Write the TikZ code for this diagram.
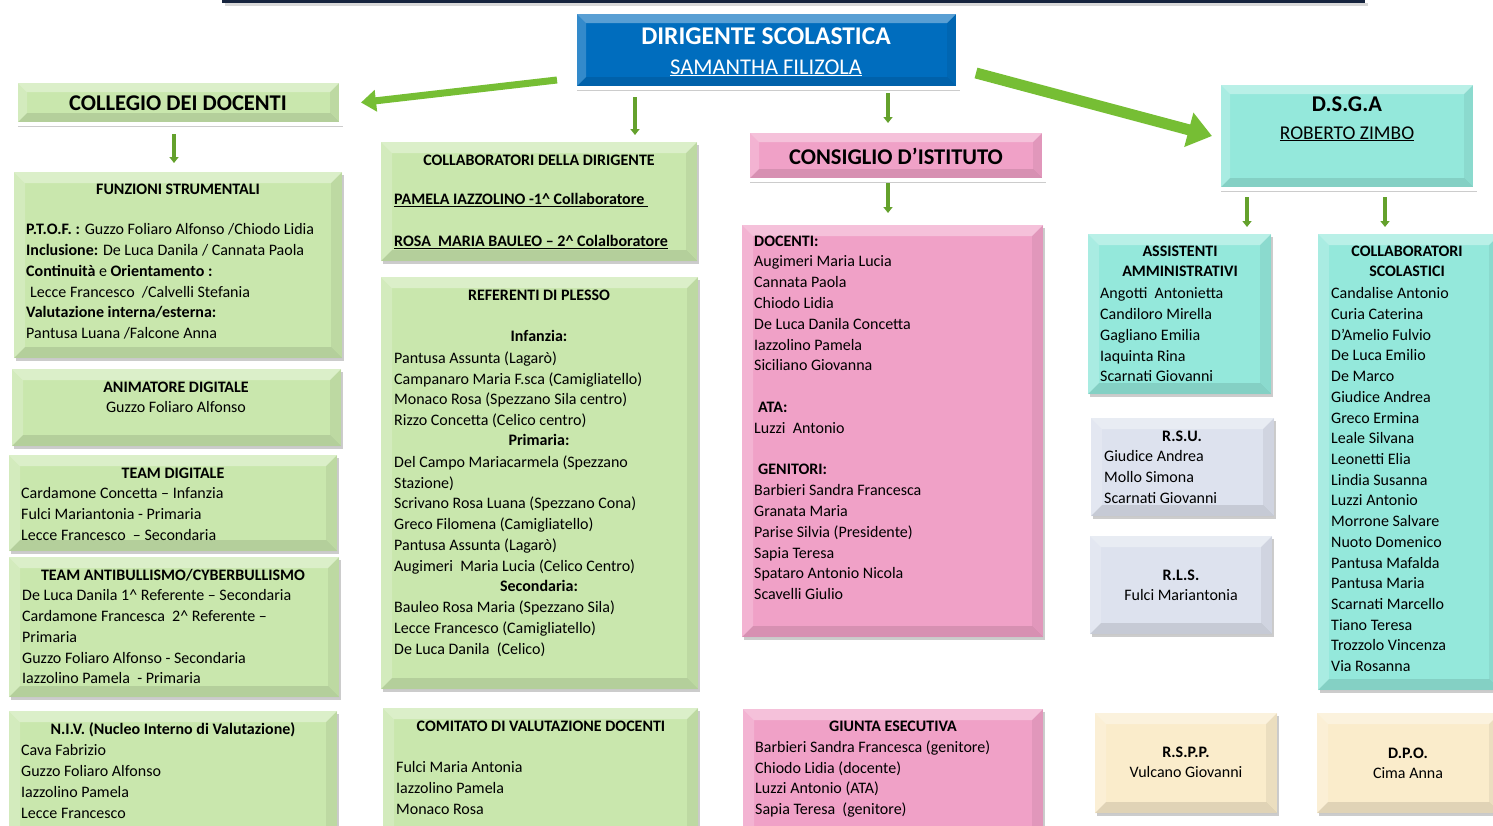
\documentclass[tikz,border=0pt]{standalone}
\usepackage{fontspec}
\setmainfont{Carlito}
\usetikzlibrary{arrows.meta,shadows}

\definecolor{boxgreen}{RGB}{201,231,173}
\definecolor{boxpink}{RGB}{240,161,199}
\definecolor{boxcyan}{RGB}{148,232,219}
\definecolor{boxgray}{RGB}{221,226,238}
\definecolor{boxbeige}{RGB}{250,236,203}
\definecolor{boxblue}{RGB}{0,109,190}
\definecolor{arrowgreen}{RGB}{118,190,52}
\definecolor{navybar}{RGB}{22,36,62}

\newcommand\bodysize{\fontsize{16pt}{20.8pt}\selectfont}

\begin{document}
\begin{tikzpicture}[x=1pt,y=-1pt,
  bevelled/.style={path picture={
    \coordinate (bnw) at (path picture bounding box.north west);
    \coordinate (bne) at (path picture bounding box.north east);
    \coordinate (bsw) at (path picture bounding box.south west);
    \coordinate (bse) at (path picture bounding box.south east);
    \fill[white,opacity=.35] (bnw) -- (bne) -- ([shift={(-11pt,-11pt)}]bne) -- ([shift={(11pt,-11pt)}]bnw) -- cycle;
    \fill[white,opacity=.2] (bnw) -- ([shift={(11pt,-11pt)}]bnw) -- ([shift={(11pt,11pt)}]bsw) -- (bsw) -- cycle;
    \fill[black,opacity=.1] (bsw) -- (bse) -- ([shift={(-11pt,11pt)}]bse) -- ([shift={(11pt,11pt)}]bsw) -- cycle;
    \fill[black,opacity=.06] (bne) -- (bse) -- ([shift={(-11pt,11pt)}]bse) -- ([shift={(-11pt,-11pt)}]bne) -- cycle;
  }},
  panel/.style={anchor=north west, inner sep=0pt, outer sep=0pt, bevelled,
    drop shadow={shadow xshift=1.5pt,shadow yshift=-3pt,fill=black!50,opacity=.4}},
  greenbox/.style={panel, fill=boxgreen},
  pinkbox/.style={panel, fill=boxpink},
  cyanbox/.style={panel, fill=boxcyan},
  graybox/.style={panel, fill=boxgray},
  beigebox/.style={panel, fill=boxbeige},
  whiteframe/.style={draw=white, line width=4pt},
  title/.style={anchor=north, inner sep=0pt, align=center, font=\bodysize\bfseries, execute at begin node=\strut},
  title2/.style={title, yshift=-4pt},
  lines/.style={anchor=north west, inner sep=0pt, align=left, font=\bodysize, yshift=-4pt},
  bigarrow/.style={draw=arrowgreen, line width=7pt, -{Triangle[width=21pt,length=15pt]}},
  smallarrow/.style={draw=arrowgreen!85!black, line width=3.5pt, -{Triangle[width=9pt,length=6pt]}}]

\fill[white] (0,0) rectangle (1493,825);
\useasboundingbox (0,0) rectangle (1493,825);

% top bar
\fill[black!15] (225,3) rectangle (1368,6);
\fill[navybar] (222,-3) rectangle (1365,3);

% heads
\node[panel, whiteframe, fill=boxblue, minimum width=383pt, minimum height=76pt] (dir) at (575,12) {};
\node[anchor=base, inner sep=0pt, text=white, font=\fontsize{25.5pt}{30pt}\selectfont\bfseries] (dir-t) at (766,44) {DIRIGENTE SCOLASTICA};
\node[anchor=base, inner sep=0pt, text=white, font=\fontsize{22.5pt}{27pt}\selectfont] (dir-n) at (766,74) {\underline{SAMANTHA FILIZOLA}};

\node[panel, whiteframe, fill=boxgreen, minimum width=325pt, minimum height=43pt] (coll) at (16,81) {};
\node[anchor=base, inner sep=0pt, font=\fontsize{22.5pt}{27pt}\selectfont\bfseries] (coll-t) at (178,110) {COLLEGIO DEI DOCENTI};

\node[panel, whiteframe, fill=boxpink, minimum width=296pt, minimum height=49pt] (cons) at (748,131) {};
\node[anchor=base, inner sep=0pt, font=\fontsize{22.5pt}{27pt}\selectfont\bfseries] (cons-t) at (896,164) {CONSIGLIO D’ISTITUTO};

\node[panel, whiteframe, fill=boxcyan, minimum width=256pt, minimum height=106pt] (dsga) at (1219,83) {};
\node[anchor=base, inner sep=0pt, font=\fontsize{22.5pt}{27pt}\selectfont\bfseries] (dsga-t) at (1347,111) {D.S.G.A};
\node[anchor=base, inner sep=0pt, font=\fontsize{19.5pt}{23pt}\selectfont] (dsga-n) at (1347,139) {\underline{ROBERTO ZIMBO}};

% first column
\node[greenbox, minimum width=328pt, minimum height=186pt] (fs) at (14,172) {};
\node[title] (fs-t) at (178,179.4) {FUNZIONI STRUMENTALI};
\node[lines] (fs-l) at (26,219.4) {\textbf{P.T.O.F. :} Guzzo Foliaro Alfonso /Chiodo Lidia\\
  \textbf{Inclusione:} De Luca Danila / Cannata Paola\\
  \textbf{Continuità} e \textbf{Orientamento :}\\
  \hspace{4pt}Lecce Francesco \ /Calvelli Stefania\\
  \textbf{Valutazione interna/esterna:}\\
  Pantusa Luana /Falcone Anna};

\node[greenbox, minimum width=329pt, minimum height=77pt] (anim) at (12,369) {};
\node[title2] (anim-t) at (176,377.4) {ANIMATORE DIGITALE\\\mdseries Guzzo Foliaro Alfonso};

\node[greenbox, minimum width=328pt, minimum height=96pt] (tdig) at (9,455) {};
\node[title] (tdig-t) at (173,463.4) {TEAM DIGITALE};
\node[lines] (tdig-l) at (21,483.4) {Cardamone Concetta – Infanzia\\
  Fulci Mariantonia - Primaria\\
  Lecce Francesco \ – Secondaria};

\node[greenbox, minimum width=330pt, minimum height=140pt] (tab) at (9,557) {};
\node[title] (tab-t) at (173,565.4) {TEAM ANTIBULLISMO/CYBERBULLISMO};
\node[lines] (tab-l) at (22,585.4) {De Luca Danila 1\textasciicircum{} Referente – Secondaria\\
  Cardamone Francesca \ 2\textasciicircum{} Referente –\\
  Primaria\\
  Guzzo Foliaro Alfonso - Secondaria\\
  Iazzolino Pamela \ - Primaria};

\node[greenbox, minimum width=328pt, minimum height=130pt] (niv) at (9,711) {};
\node[title] (niv-t) at (173,719.4) {N.I.V. (Nucleo Interno di Valutazione)};
\node[lines] (niv-l) at (21,740.4) {Cava Fabrizio\\
  Guzzo Foliaro Alfonso\\
  Iazzolino Pamela\\
  Lecce Francesco};

% second column
\node[greenbox, minimum width=316pt, minimum height=119pt] (cdir) at (381,142) {};
\node[title] (cdir-t) at (539,150.4) {COLLABORATORI DELLA DIRIGENTE};
\node[lines, font=\bodysize\bfseries] (cdir-l) at (394,189.4) {\underline{PAMELA IAZZOLINO -1\textasciicircum{} Collaboratore\ }\\
  \mbox{}\\
  \underline{ROSA \ MARIA BAULEO – 2\textasciicircum{} Colalboratore}};

\node[greenbox, minimum width=317pt, minimum height=412pt] (ref) at (381,277) {};
\node[title] (ref-t) at (539,285.4) {REFERENTI DI PLESSO};
\node[title] (ref-h1) at (539,326.4) {Infanzia:};
\node[title] (ref-h2) at (539,430.4) {Primaria:};
\node[title] (ref-h3) at (539,576.4) {Secondaria:};
\node[lines] (ref-l) at (394,347.4) {Pantusa Assunta (Lagarò)\\
  Campanaro Maria F.sca (Camigliatello)\\
  Monaco Rosa (Spezzano Sila centro)\\
  Rizzo Concetta (Celico centro)\\
  \mbox{}\\
  Del Campo Mariacarmela (Spezzano\\
  Stazione)\\
  Scrivano Rosa Luana (Spezzano Cona)\\
  Greco Filomena (Camigliatello)\\
  Pantusa Assunta (Lagarò)\\
  Augimeri \ Maria Lucia (Celico Centro)\\
  \mbox{}\\
  Bauleo Rosa Maria (Spezzano Sila)\\
  Lecce Francesco (Camigliatello)\\
  De Luca Danila \ (Celico)};

\node[greenbox, minimum width=315pt, minimum height=130pt] (comv) at (383,708) {};
\node[title] (comv-t) at (541,716.4) {COMITATO DI VALUTAZIONE DOCENTI};
\node[lines] (comv-l) at (396,757.4) {Fulci Maria Antonia\\
  Iazzolino Pamela\\
  Monaco Rosa};

% third column
\node[pinkbox, minimum width=301pt, minimum height=412pt] (cist) at (742,225) {};
\node[lines] (cist-l) at (754,231.4) {\textbf{DOCENTI:}\\
  Augimeri Maria Lucia\\
  Cannata Paola\\
  Chiodo Lidia\\
  De Luca Danila Concetta\\
  Iazzolino Pamela\\
  Siciliano Giovanna\\
  \mbox{}\\
  \hspace{4pt}\textbf{ATA:}\\
  Luzzi \ Antonio\\
  \mbox{}\\
  \hspace{4pt}\textbf{GENITORI:}\\
  Barbieri Sandra Francesca\\
  Granata Maria\\
  Parise Silvia (Presidente)\\
  Sapia Teresa\\
  Spataro Antonio Nicola\\
  Scavelli Giulio};

\node[pinkbox, minimum width=300pt, minimum height=130pt] (giunta) at (743,709) {};
\node[title] (giunta-t) at (893,716.4) {GIUNTA ESECUTIVA};
\node[lines] (giunta-l) at (755,736.4) {Barbieri Sandra Francesca (genitore)\\
  Chiodo Lidia (docente)\\
  Luzzi Antonio (ATA)\\
  Sapia Teresa \ (genitore)};

% fourth column
\node[cyanbox, minimum width=183pt, minimum height=160pt] (ass) at (1088,234) {};
\node[title2] (ass-t) at (1180,241.4) {ASSISTENTI\\AMMINISTRATIVI};
\node[lines] (ass-l) at (1100,283.4) {Angotti \ Antonietta\\
  Candiloro Mirella\\
  Gagliano Emilia\\
  Iaquinta Rina\\
  Scarnati Giovanni};

\node[graybox, minimum width=183pt, minimum height=98pt] (rsu) at (1091,418) {};
\node[title] (rsu-t) at (1182,426.4) {R.S.U.};
\node[lines] (rsu-l) at (1104,446.4) {Giudice Andrea\\
  Mollo Simona\\
  Scarnati Giovanni};

\node[graybox, minimum width=182pt, minimum height=98pt] (rls) at (1090,536) {};
\node[title2] (rls-t) at (1181,565.4) {R.L.S.\\\mdseries Fulci Mariantonia};

\node[beigebox, minimum width=182pt, minimum height=100pt] (rspp) at (1095,713) {};
\node[title2] (rspp-t) at (1186,742.4) {R.S.P.P.\\\mdseries Vulcano Giovanni};

% fifth column
\node[cyanbox, minimum width=182pt, minimum height=456pt] (csc) at (1318,234) {};
\node[title2] (csc-t) at (1407,241.4) {COLLABORATORI\\SCOLASTICI};
\node[lines, font=\fontsize{16pt}{20.72pt}\selectfont] (csc-l) at (1331,283.4) {Candalise Antonio\\
  Curia Caterina\\
  D’Amelio Fulvio\\
  De Luca Emilio\\
  De Marco\\
  Giudice Andrea\\
  Greco Ermina\\
  Leale Silvana\\
  Leonetti Elia\\
  Lindia Susanna\\
  Luzzi Antonio\\
  Morrone Salvare\\
  Nuoto Domenico\\
  Pantusa Mafalda\\
  Pantusa Maria\\
  Scarnati Marcello\\
  Tiano Teresa\\
  Trozzolo Vincenza\\
  Via Rosanna};

\node[beigebox, minimum width=183pt, minimum height=100pt] (dpo) at (1317,713) {};
\node[title2] (dpo-t) at (1408,743.4) {D.P.O.\\\mdseries Cima Anna};

% arrows
\draw[bigarrow] ([shift={(-18pt,8pt)}]dir.south west) -- ([xshift=20pt]coll.east);
\draw[bigarrow, line width=11pt, -{Triangle[width=34pt,length=24pt]}] ([shift={(18pt,15pt)}]dir.south east) -- ([xshift=-7pt]dsga.west);
\draw[smallarrow] ([yshift=-9pt]dir.south -| 635,0) -- ([yshift=7pt]cdir.north -| 635,0);
\draw[smallarrow] ([yshift=-5pt]dir.south -| 888,0) -- ([yshift=8pt]cons.north -| 888,0);
\draw[smallarrow] ([yshift=-10pt]coll.south -| 174,0) -- ([yshift=9pt]fs.north -| 174,0);
\draw[smallarrow] ([yshift=-3pt]cons.south -| 888,0) -- ([yshift=12pt]cist.north -| 888,0);
\draw[smallarrow] ([yshift=-8pt]dsga.south -| 1247,0) -- ([yshift=7pt]ass.north -| 1247,0);
\draw[smallarrow] ([yshift=-8pt]dsga.south -| 1385,0) -- ([yshift=7pt]csc.north -| 1385,0);
\end{tikzpicture}
\end{document}
